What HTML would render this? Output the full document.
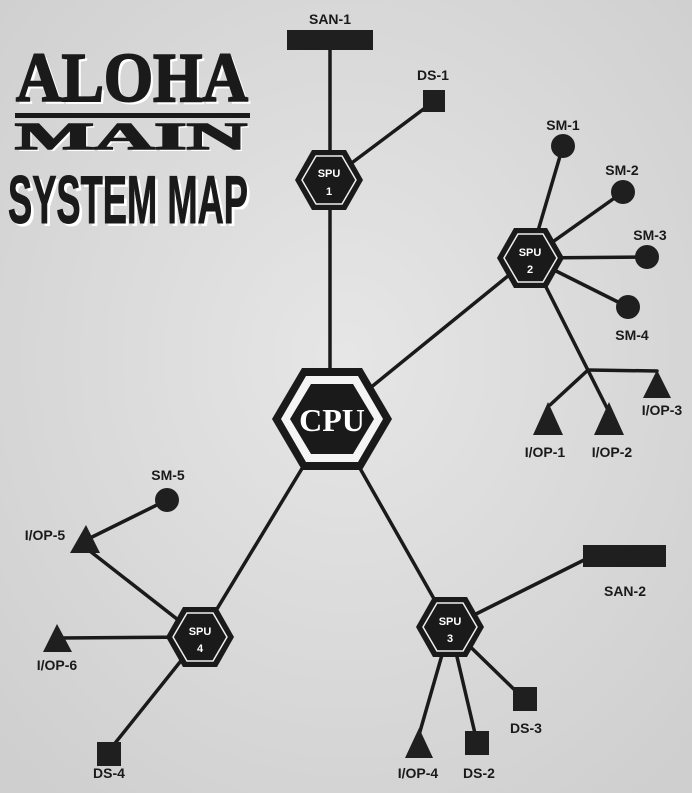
<!DOCTYPE html>
<html><head><meta charset="utf-8"><style>
html,body{margin:0;padding:0;background:#dcdcdc;}
svg{display:block}
text{font-family:"Liberation Sans",sans-serif;font-weight:bold;fill:#1a1a1a}
.lb{font-size:14px;text-anchor:middle}
</style></head><body>
<svg width="692" height="793" viewBox="0 0 692 793" xmlns="http://www.w3.org/2000/svg">
<defs>
<radialGradient id="bg" cx="50%" cy="45%" r="70%"><stop offset="0" stop-color="#e6e6e6"/><stop offset="1" stop-color="#cfcfcf"/></radialGradient>
</defs>
<rect width="692" height="793" fill="url(#bg)"/>
<!-- title -->
<g>
<text x="19" y="104" font-size="70" style="font-family:'Liberation Serif',serif;fill:#fff" textLength="232" lengthAdjust="spacingAndGlyphs">ALOHA</text>
<text x="16" y="101" font-size="70" style="font-family:'Liberation Serif',serif;stroke:#1a1a1a;stroke-width:2" textLength="232" lengthAdjust="spacingAndGlyphs">ALOHA</text>
<rect x="15" y="113" width="235" height="5" fill="#1a1a1a"/>
<text x="18" y="151" style="font-family:'Liberation Serif',serif;fill:#fff" font-size="38" textLength="232" lengthAdjust="spacingAndGlyphs">MAIN</text>
<text x="15" y="149" style="font-family:'Liberation Serif',serif;stroke:#1a1a1a;stroke-width:1.5" font-size="38" textLength="232" lengthAdjust="spacingAndGlyphs">MAIN</text>
<text x="11" y="226" style="fill:#fff" font-size="68" textLength="240" lengthAdjust="spacingAndGlyphs">SYSTEM MAP</text>
<text x="8" y="223" font-size="68" style="stroke:#1a1a1a;stroke-width:1" textLength="240" lengthAdjust="spacingAndGlyphs">SYSTEM MAP</text>
</g>
<!-- lines -->
<g stroke="#1a1a1a" stroke-width="3.5" fill="none" stroke-linecap="round">
<line x1="330" y1="48" x2="330" y2="372"/>
<line x1="329" y1="180" x2="433" y2="102"/>
<line x1="332" y1="419" x2="530" y2="258"/>
<line x1="332" y1="419" x2="200" y2="637"/>
<line x1="332" y1="419" x2="450" y2="627"/>
<line x1="530" y1="258" x2="563" y2="146"/>
<line x1="530" y1="258" x2="623" y2="192"/>
<line x1="530" y1="258" x2="647" y2="257"/>
<line x1="530" y1="258" x2="628" y2="307"/>
<line x1="545" y1="285" x2="608" y2="410"/>
<line x1="588" y1="370" x2="550" y2="405"/>
<line x1="588" y1="370" x2="657" y2="371"/>
<line x1="450" y1="627" x2="590" y2="557"/>
<line x1="450" y1="627" x2="524" y2="699"/>
<line x1="450" y1="627" x2="477" y2="742"/>
<line x1="450" y1="627" x2="419" y2="735"/>
<line x1="167" y1="500" x2="86" y2="540"/>
<line x1="200" y1="637" x2="86" y2="548"/>
<line x1="200" y1="637" x2="60" y2="638"/>
<line x1="200" y1="637" x2="108" y2="752"/>
</g>
<!-- nodes -->
<g fill="#1f1f1f">
<rect x="287" y="30" width="86" height="20"/>
<rect x="583" y="545" width="83" height="22"/>
<rect x="423" y="90" width="22" height="22"/>
<rect x="513" y="687" width="24" height="24"/>
<rect x="465" y="731" width="24" height="24"/>
<rect x="97" y="742" width="24" height="24"/>
<circle cx="563" cy="146" r="12"/>
<circle cx="623" cy="192" r="12"/>
<circle cx="647" cy="257" r="12"/>
<circle cx="628" cy="307" r="12"/>
<circle cx="167" cy="500" r="12"/>
<polygon points="548,402 533,435 563,435"/>
<polygon points="609,402 594,435 624,435"/>
<polygon points="657,370 643,398 671,398"/>
<polygon points="419,728 405,758 433,758"/>
<polygon points="86,525 70,553 100,553"/>
<polygon points="57,624 43,652 72,652"/>
</g>
<!-- hexes -->
<g>
<polygon points="272,419 302,368 362,368 392,419 362,470 302,470" fill="#1a1a1a"/>
<polygon points="281,419 306,376 358,376 383,419 358,462 306,462" fill="#f4f4f4"/>
<polygon points="290,419 311,384 353,384 374,419 353,454 311,454" fill="#1a1a1a"/>
<text x="332" y="431" style="fill:#fff;font-family:'Liberation Serif',serif" font-size="32" text-anchor="middle">CPU</text>
</g>
<g>
<polygon points="295,180 312,150 346,150 363,180 346,210 312,210" fill="#1a1a1a"/>
<polygon points="302,180 316,156 342,156 356,180 342,204 316,204" fill="none" stroke="#eee" stroke-width="1.5"/>
<text x="329" y="177" style="fill:#fff" font-size="11" text-anchor="middle">SPU</text>
<text x="329" y="195" style="fill:#fff" font-size="11" text-anchor="middle">1</text>
</g>
<g>
<polygon points="497,258 514,228 547,228 564,258 547,288 514,288" fill="#1a1a1a"/>
<polygon points="504,258 518,234 543,234 557,258 543,282 518,282" fill="none" stroke="#eee" stroke-width="1.5"/>
<text x="530" y="256" style="fill:#fff" font-size="11" text-anchor="middle">SPU</text>
<text x="530" y="273" style="fill:#fff" font-size="11" text-anchor="middle">2</text>
</g>
<g>
<polygon points="416,627 433,597 467,597 484,627 467,657 433,657" fill="#1a1a1a"/>
<polygon points="423,627 437,603 463,603 477,627 463,651 437,651" fill="none" stroke="#eee" stroke-width="1.5"/>
<text x="450" y="625" style="fill:#fff" font-size="11" text-anchor="middle">SPU</text>
<text x="450" y="642" style="fill:#fff" font-size="11" text-anchor="middle">3</text>
</g>
<g>
<polygon points="166,637 183,607 217,607 234,637 217,667 183,667" fill="#1a1a1a"/>
<polygon points="173,637 187,613 213,613 227,637 213,661 187,661" fill="none" stroke="#eee" stroke-width="1.5"/>
<text x="200" y="635" style="fill:#fff" font-size="11" text-anchor="middle">SPU</text>
<text x="200" y="652" style="fill:#fff" font-size="11" text-anchor="middle">4</text>
</g>
<!-- labels -->
<text class="lb" x="330" y="24" font-size="17">SAN-1</text>
<text class="lb" x="433" y="80">DS-1</text>
<text class="lb" x="563" y="130">SM-1</text>
<text class="lb" x="622" y="175">SM-2</text>
<text class="lb" x="650" y="240">SM-3</text>
<text class="lb" x="632" y="340">SM-4</text>
<text class="lb" x="662" y="415">I/OP-3</text>
<text class="lb" x="545" y="457">I/OP-1</text>
<text class="lb" x="612" y="457">I/OP-2</text>
<text class="lb" x="625" y="596" font-size="18">SAN-2</text>
<text class="lb" x="526" y="733">DS-3</text>
<text class="lb" x="479" y="778">DS-2</text>
<text class="lb" x="418" y="778">I/OP-4</text>
<text class="lb" x="168" y="480">SM-5</text>
<text class="lb" x="45" y="540">I/OP-5</text>
<text class="lb" x="57" y="670">I/OP-6</text>
<text class="lb" x="109" y="778">DS-4</text>
</svg>
</body></html>
